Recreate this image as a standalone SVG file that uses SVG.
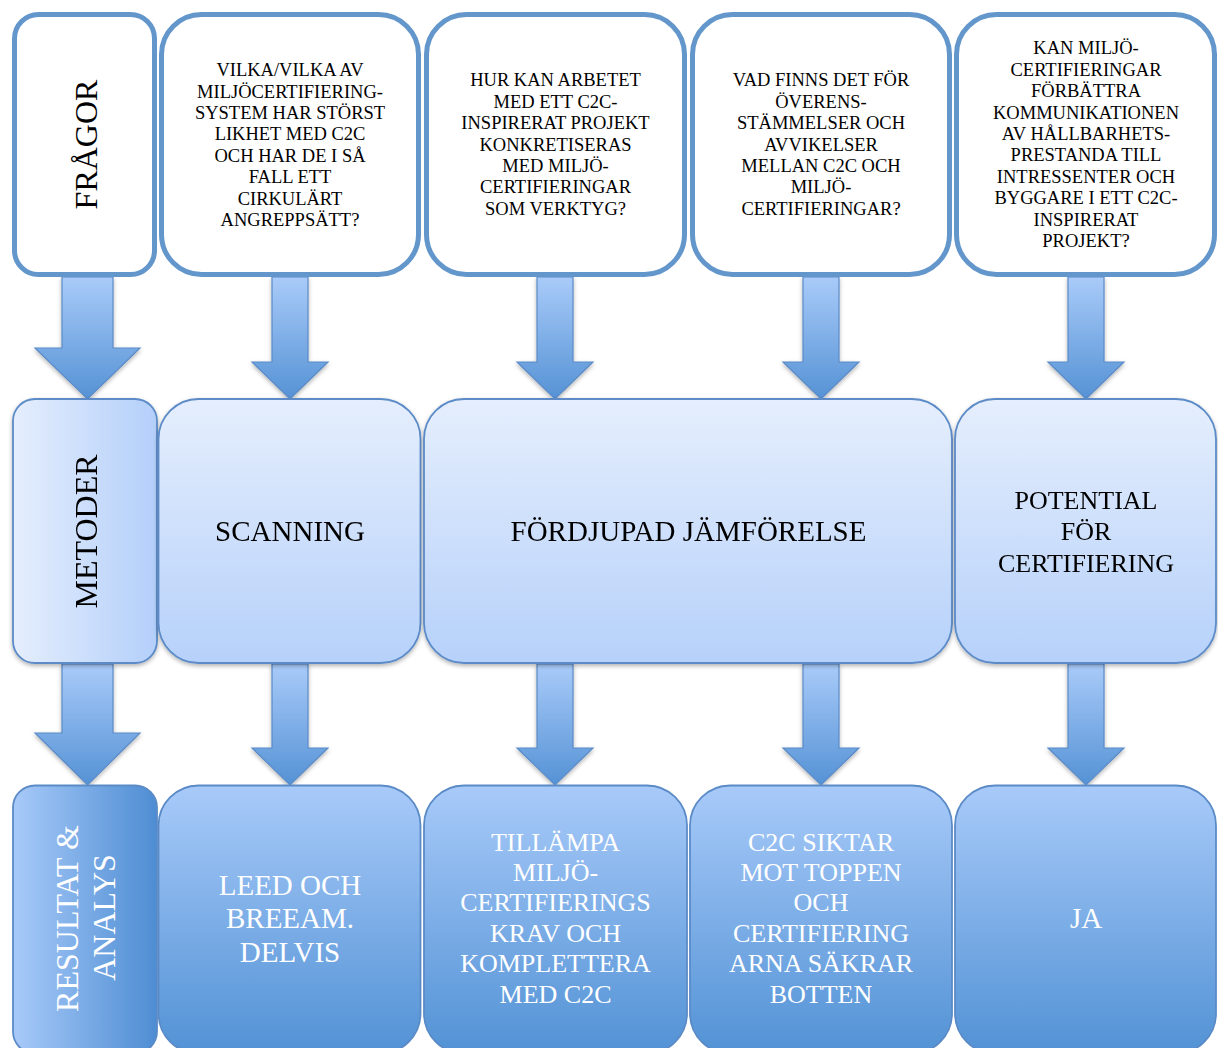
<svg xmlns="http://www.w3.org/2000/svg" width="1218" height="1048" viewBox="0 0 1218 1048">
<defs>
<linearGradient id="gMid" x1="0" y1="0" x2="0" y2="1"><stop offset="0" stop-color="#e5eefd"/><stop offset="1" stop-color="#b6d1fa"/></linearGradient>
<linearGradient id="gMidH" x1="0" y1="0" x2="1" y2="0"><stop offset="0" stop-color="#e5eefd"/><stop offset="1" stop-color="#b3cffa"/></linearGradient>
<linearGradient id="gBot" x1="0" y1="0" x2="0" y2="1"><stop offset="0" stop-color="#a8caf9"/><stop offset="1" stop-color="#5292d5"/></linearGradient>
<linearGradient id="gBotH" x1="0" y1="0" x2="1" y2="0"><stop offset="0" stop-color="#a8caf9"/><stop offset="1" stop-color="#4e8dd3"/></linearGradient>
<linearGradient id="gArr" x1="0" y1="0" x2="0" y2="1"><stop offset="0" stop-color="#a9cbf9"/><stop offset="1" stop-color="#5592d5"/></linearGradient>
<filter id="sh" x="-10%" y="-10%" width="120%" height="125%"><feDropShadow dx="0" dy="2" stdDeviation="2" flood-color="#000" flood-opacity="0.3"/></filter>
</defs>
<style>
.top{fill:#fff;stroke:#6396cb;stroke-width:5}
.mid{fill:url(#gMid);stroke:#5b8bc7;stroke-width:1.8}
.bot{fill:url(#gBot);stroke:#5b8bc7;stroke-width:1.8}
.arr{fill:url(#gArr);stroke:#5b8bc7;stroke-width:1.2}
.q{font-family:"Liberation Serif","Times New Roman",serif;font-size:18.5px;fill:#000;text-anchor:middle}
.m{font-family:"Liberation Serif","Times New Roman",serif;font-size:29px;fill:#000;text-anchor:middle}
.r{font-family:"Liberation Serif","Times New Roman",serif;font-size:29px;fill:#fff;text-anchor:middle}
.r2{font-family:"Liberation Serif","Times New Roman",serif;font-size:26px;fill:#fff;text-anchor:middle}
.lab{font-family:"Liberation Serif","Times New Roman",serif;font-size:32px;text-anchor:middle}
</style>

<g id="connectors">
<g filter="url(#sh)">
<path class="arr" d="M62,277 H113 V348 H140 L87.5,399 L35,348 H62 Z"/>
<path class="arr" d="M272,277 H308 V362 H328 L290,399 L252,362 H272 Z"/>
<path class="arr" d="M537,277 H573 V362 H593 L555,399 L517,362 H537 Z"/>
<path class="arr" d="M803,277 H839 V362 H859 L821,399 L783,362 H803 Z"/>
<path class="arr" d="M1068,277 H1104 V362 H1124 L1086,399 L1048,362 H1068 Z"/>
<path class="arr" d="M62,664 H113 V733 H140 L87.5,785 L35,733 H62 Z"/>
<path class="arr" d="M272,664 H308 V748 H328 L290,785 L252,748 H272 Z"/>
<path class="arr" d="M537,664 H573 V748 H593 L555,785 L517,748 H537 Z"/>
<path class="arr" d="M803,664 H839 V748 H859 L821,785 L783,748 H803 Z"/>
<path class="arr" d="M1068,664 H1104 V748 H1124 L1086,785 L1048,748 H1068 Z"/>
</g>
</g>

<g id="q-fragor">
<rect class="top" x="14.5" y="14.5" width="140" height="260" rx="24"/>
<text class="lab" fill="#000" transform="translate(97,144.5) rotate(-90)">FRÅGOR</text>
</g>
<g id="q1">
<rect class="top" x="161.5" y="14.5" width="257" height="260" rx="40"/>
<text class="q"><tspan x="290" y="76.1">VILKA/VILKA AV</tspan><tspan x="290" y="97.5">MILJÖCERTIFIERING-</tspan><tspan x="290" y="118.9">SYSTEM HAR STÖRST</tspan><tspan x="290" y="140.3">LIKHET MED C2C</tspan><tspan x="290" y="161.7">OCH HAR DE I SÅ</tspan><tspan x="290" y="183.1">FALL ETT</tspan><tspan x="290" y="204.5">CIRKULÄRT</tspan><tspan x="290" y="225.9">ANGREPPSÄTT?</tspan></text>
</g>
<g id="q2">
<rect class="top" x="426.5" y="14.5" width="258" height="260" rx="40"/>
<text class="q"><tspan x="555.5" y="86.4">HUR KAN ARBETET</tspan><tspan x="555.5" y="107.8">MED ETT C2C-</tspan><tspan x="555.5" y="129.2">INSPIRERAT PROJEKT</tspan><tspan x="555.5" y="150.6">KONKRETISERAS</tspan><tspan x="555.5" y="172">MED MILJÖ-</tspan><tspan x="555.5" y="193.4">CERTIFIERINGAR</tspan><tspan x="555.5" y="214.8">SOM VERKTYG?</tspan></text>
</g>
<g id="q3">
<rect class="top" x="692.5" y="14.5" width="257" height="260" rx="40"/>
<text class="q"><tspan x="821" y="86.4">VAD FINNS DET FÖR</tspan><tspan x="821" y="107.8">ÖVERENS-</tspan><tspan x="821" y="129.2">STÄMMELSER OCH</tspan><tspan x="821" y="150.6">AVVIKELSER</tspan><tspan x="821" y="172">MELLAN C2C OCH</tspan><tspan x="821" y="193.4">MILJÖ-</tspan><tspan x="821" y="214.8">CERTIFIERINGAR?</tspan></text>
</g>
<g id="q4">
<rect class="top" x="956.5" y="14.5" width="258" height="260" rx="40"/>
<text class="q"><tspan x="1086" y="54.3">KAN MILJÖ-</tspan><tspan x="1086" y="75.7">CERTIFIERINGAR</tspan><tspan x="1086" y="97.1">FÖRBÄTTRA</tspan><tspan x="1086" y="118.5">KOMMUNIKATIONEN</tspan><tspan x="1086" y="139.9">AV HÅLLBARHETS-</tspan><tspan x="1086" y="161.3">PRESTANDA TILL</tspan><tspan x="1086" y="182.7">INTRESSENTER OCH</tspan><tspan x="1086" y="204.1">BYGGARE I ETT C2C-</tspan><tspan x="1086" y="225.5">INSPIRERAT</tspan><tspan x="1086" y="246.9">PROJEKT?</tspan></text>
</g>

<g id="m-metoder" filter="url(#sh)">
<rect class="mid" style="fill:url(#gMidH)" x="13" y="399" width="144" height="264" rx="22"/>
<text class="lab" fill="#000" transform="translate(97,531.5) rotate(-90)">METODER</text>
</g>
<g id="m1" filter="url(#sh)">
<rect class="mid" x="158.5" y="399" width="262" height="264" rx="40"/>
<text class="m" x="290" y="541">SCANNING</text>
</g>
<g id="m2" filter="url(#sh)">
<rect class="mid" x="424" y="399" width="528" height="264" rx="40"/>
<text class="m" x="688.5" y="541">FÖRDJUPAD JÄMFÖRELSE</text>
</g>
<g id="m3" filter="url(#sh)">
<rect class="mid" x="955" y="399" width="261" height="264" rx="40"/>
<text class="m" style="font-size:26px"><tspan x="1086" y="508.6">POTENTIAL</tspan><tspan x="1086" y="540">FÖR</tspan><tspan x="1086" y="571.6">CERTIFIERING</tspan></text>
</g>

<g id="r-resultat">
<rect class="bot" style="fill:url(#gBotH)" x="13" y="785.5" width="144" height="268" rx="22"/>
<text class="lab" fill="#fff" transform="translate(78,918.5) rotate(-90)">RESULTAT &amp;</text>
<text class="lab" fill="#fff" transform="translate(115,917.5) rotate(-90)">ANALYS</text>
</g>
<g id="r1">
<rect class="bot" x="158.5" y="785.5" width="262" height="268" rx="40"/>
<text class="r"><tspan x="290" y="894.6">LEED OCH</tspan><tspan x="290" y="927.6">BREEAM.</tspan><tspan x="290" y="961.6">DELVIS</tspan></text>
</g>
<g id="r2">
<rect class="bot" x="424" y="785.5" width="263" height="268" rx="40"/>
<text class="r2"><tspan x="555.5" y="850.6">TILLÄMPA</tspan><tspan x="555.5" y="881">MILJÖ-</tspan><tspan x="555.5" y="911.4">CERTIFIERINGS</tspan><tspan x="555.5" y="941.8">KRAV OCH</tspan><tspan x="555.5" y="972.2">KOMPLETTERA</tspan><tspan x="555.5" y="1002.6">MED C2C</tspan></text>
</g>
<g id="r3">
<rect class="bot" x="690" y="785.5" width="262" height="268" rx="40"/>
<text class="r2"><tspan x="821" y="850.6">C2C SIKTAR</tspan><tspan x="821" y="881">MOT TOPPEN</tspan><tspan x="821" y="911.4">OCH</tspan><tspan x="821" y="941.8">CERTIFIERING</tspan><tspan x="821" y="972.2">ARNA SÄKRAR</tspan><tspan x="821" y="1002.6">BOTTEN</tspan></text>
</g>
<g id="r4">
<rect class="bot" x="955" y="785.5" width="261" height="268" rx="40"/>
<text class="r" x="1086" y="927.6">JA</text>
</g>
</svg>
